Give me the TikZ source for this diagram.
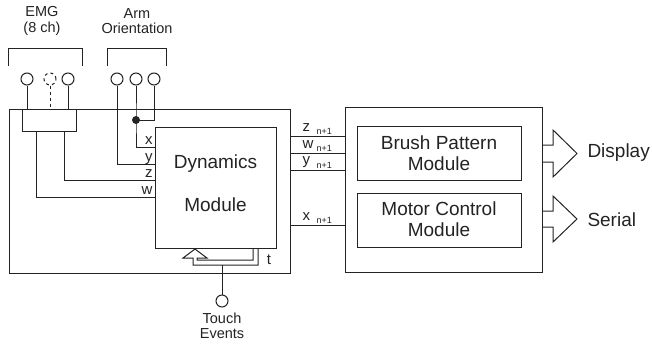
\documentclass[tikz,border=0pt]{standalone}
\usepackage{fontspec}
\setmainfont{Liberation Sans}
\definecolor{ink}{RGB}{35,35,35}
\begin{document}
\begin{tikzpicture}[x=1pt,y=-1pt,
  line width=1pt, draw=ink, text=ink,
  box/.style={draw, rectangle, inner sep=0pt, anchor=north west},
  port/.style={draw, circle, minimum size=12pt, inner sep=0pt},
  big/.style={font=\fontsize{19}{21}\selectfont, align=center, inner sep=0pt},
  small/.style={font=\fontsize{14.5}{15.5}\selectfont, align=center, inner sep=0pt},
  lbl/.style={font=\fontsize{15}{15}\selectfont, inner sep=0pt},
  sub/.style={font=\fontsize{9}{9}\selectfont, inner sep=0pt},
  bus/.style={draw, line join=miter}
]
\useasboundingbox (0,0) rectangle (652,345);

% boxes
\node[box, minimum width=281pt, minimum height=164pt] (outerL) at (9,109) {};
\node[box, minimum width=54pt, minimum height=22pt] (emgbox) at (22,109) {};
\node[box, minimum width=121pt, minimum height=121pt] (dyn) at (155,127) {};
\node[box, minimum width=197pt, minimum height=165pt] (outerR) at (345,107) {};
\node[box, minimum width=164pt, minimum height=54pt] (brush) at (357,126) {};
\node[box, minimum width=164pt, minimum height=54pt] (motor) at (357,193) {};

% texts in boxes
\node[big] (dyn1) at (215.5,164) {Dynamics};
\node[big] (dyn2) at (215.5,205) {Module};
\node[big] (brushT) at (439,153) {Brush Pattern\\Module};
\node[big] (motorT) at (439,219) {Motor Control\\Module};

% top labels
\node[small] (emgT) at (42,21) {EMG\\(8 ch)};
\node[small] (armT) at (137,21) {Arm\\Orientation};
\draw (8,66) -- (8,49) -- (82,49) -- (82,66);
\draw (107,66) -- (107,49) -- (166,49) -- (166,66);

% ports
\node[port] (e1) at (27,79) {};
\node[port, dashed] (e2) at (50,79) {};
\node[port] (e3) at (68,79) {};
\node[port] (a1) at (117,79) {};
\node[port] (a2) at (136,79) {};
\node[port] (a3) at (154,79) {};
\node[port] (touch) at (222,301) {};

% EMG connections
\coordinate (e1b) at (27,109);
\coordinate (e2b) at (50,109);
\coordinate (e3b) at (68,109);
\draw (e1) -- (e1b);
\draw[dashed] (e2) -- (e2b);
\draw (e3) -- (e3b);

% arm connections
\coordinate (dot) at (136,120);
\coordinate (xin) at (155,147);
\coordinate (yin) at (155,164);
\coordinate (zin) at (155,180);
\coordinate (win) at (155,197);
\coordinate (zsrc) at (64,131);
\coordinate (wsrc) at (36,131);
\draw (a1) |- (yin);
\draw (a2) -- (dot) |- (xin);
\draw (a3) |- (dot);
\fill[ink] (dot) circle (4pt);
\draw (zsrc) |- (zin);
\draw (wsrc) |- (win);

\node[lbl, anchor=base east] (xl) at (153,144) {x};
\node[lbl, anchor=base east] (yl) at (153,161) {y};
\node[lbl, anchor=base east] (zl) at (153,177) {z};
\node[lbl, anchor=base east] (wl) at (153,194) {w};

% outputs
\coordinate (zo1) at (290,136); \coordinate (zo2) at (345,136);
\coordinate (wo1) at (290,153); \coordinate (wo2) at (345,153);
\coordinate (yo1) at (290,170); \coordinate (yo2) at (345,170);
\coordinate (xo1) at (290,225); \coordinate (xo2) at (345,225);
\draw (zo1) -- (zo2);
\draw (wo1) -- (wo2);
\draw (yo1) -- (yo2);
\draw (xo1) -- (xo2);
\node[lbl, anchor=base west] (zol) at (302,131) {z};
\node[sub, anchor=base west] (zos) at (316,134.5) {n+1};
\node[lbl, anchor=base west] (wol) at (302,148) {w};
\node[sub, anchor=base west] (wos) at (316,151.5) {n+1};
\node[lbl, anchor=base west] (yol) at (302,164) {y};
\node[sub, anchor=base west] (yos) at (316,168.5) {n+1};
\node[lbl, anchor=base west] (xol) at (302,220) {x};
\node[sub, anchor=base west] (xos) at (316,223.5) {n+1};

% touch hollow arrow
\coordinate (tin1) at (253,248);
\coordinate (tin2) at (258,248);
\coordinate (tj) at (222,265);
\draw[bus] (tin1) -- (253,260) -- (197,260) -- (197,258) -- (207,258) -- (195,249)
  -- (183,258) -- (193,258) -- (193,265) -- (258,265) -- (tin2);
\draw (touch) -- (tj);
\node[lbl, anchor=base] (tl) at (269,264) {t};
\node[small] (touchT) at (222,326) {Touch\\Events};

% output hollow arrows
\coordinate (d1) at (542,145);
\coordinate (d2) at (542,162);
\draw[bus] (d1) -- (553,145) -- (553,130) -- (577,153.5) -- (553,177) -- (553,162) -- (d2);
\coordinate (s1) at (542,211);
\coordinate (s2) at (542,227);
\draw[bus] (s1) -- (553,211) -- (553,196) -- (577,219) -- (553,242) -- (553,227) -- (s2);
\node[big, anchor=west] (dispT) at (587,153) {Display};
\node[big, anchor=west] (serT) at (587,220) {Serial};
\end{tikzpicture}
\end{document}
